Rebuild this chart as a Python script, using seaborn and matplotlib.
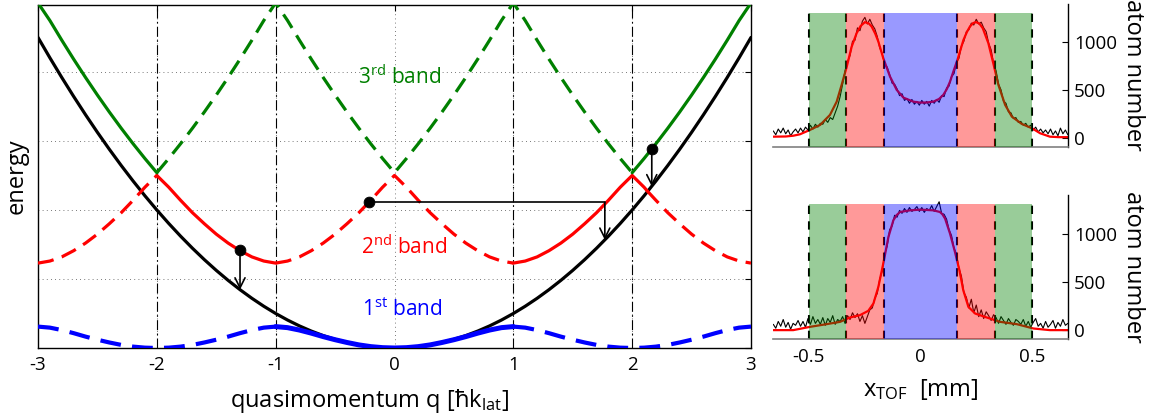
import numpy as np
import matplotlib
matplotlib.use("Agg")
import matplotlib.pyplot as plt
import seaborn as sns

# ---------------- band structure data ----------------
q_reduced = [0.0, 0.1, 0.2, 0.3, 0.4, 0.5, 0.6, 0.7, 0.8, 0.9, 1.0]
band1 = [0.0, 0.005, 0.02, 0.045, 0.08, 0.12, 0.165, 0.215, 0.26, 0.295, 0.31]
band2 = [2.50, 2.33, 2.14, 1.96, 1.80, 1.65, 1.52, 1.41, 1.32, 1.26, 1.23]
band3 = [2.54, 2.745, 2.96, 3.185, 3.42, 3.665, 3.92, 4.185, 4.46, 4.745, 5.0]

free_abs_q = [round(0.1 * i, 1) for i in range(31)]
free_energy = [0.0, 0.005, 0.02, 0.045, 0.08, 0.125, 0.18, 0.245, 0.32, 0.405,
               0.5, 0.605, 0.72, 0.845, 0.98, 1.125, 1.28, 1.445, 1.62, 1.805,
               2.0, 2.205, 2.42, 2.645, 2.88, 3.125, 3.38, 3.645, 3.92, 4.205, 4.5]

# red band meets the free parabola here (right side)
red_cross_q = 2.13
red_cross_E = 2.27

# transitions: dots, arrows
dot_q = [-1.30, -0.215, 2.165]
dot_E = [1.42, 2.11, 2.88]
arrow_q = [-1.30, 1.77, 2.165]
arrow_E_start = [1.42, 2.11, 2.88]
arrow_E_end = [0.845, 1.566, 2.34]
hline_q = [-0.215, 1.77]
hline_E = [2.11, 2.11]

zone_edges = [-2, -1, 1, 2]
q_ticks = [-3, -2, -1, 0, 1, 2, 3]

band_labels = ["3$^{\\rm rd}$ band", "2$^{\\rm nd}$ band", "1$^{\\rm st}$ band"]
band_label_q = [-0.31, -0.28, -0.27]
band_label_E = [3.92, 1.46, 0.55]

# ---------------- time-of-flight profiles ----------------
tof_x = np.linspace(-0.655, 0.66, 120)
top_counts = [70, 30, 90, 50, 100, 40, 80, 20, 60, 90,
              50, 100, 60, 110, 80, 130, 90, 140, 110, 150,
              140, 190, 160, 210, 190, 260, 330, 430, 560, 700,
              800, 860, 1010, 1020, 1150, 1120, 1220, 1260, 1190, 1240,
              1180, 1140, 1060, 940, 880, 760, 740, 660, 570, 560,
              510, 440, 460, 390, 410, 360, 400, 350, 380, 340,
              390, 350, 380, 330, 390, 360, 400, 370, 440, 430,
              520, 540, 640, 670, 790, 830, 960, 1010, 1110, 1130,
              1200, 1180, 1240, 1190, 1210, 1150, 1110, 990, 920, 780,
              700, 560, 500, 380, 360, 270, 260, 200, 210, 160,
              170, 130, 150, 110, 130, 80, 110, 60, 90, 50,
              80, 40, 90, 30, 70, 20, 100, 40, 80, 30]
bottom_counts = [60, 20, 90, 40, 110, 30, 80, 10, 70, 50,
                 100, 40, 90, 30, 120, 60, 140, 70, 110, 60,
                 130, 50, 120, 80, 150, 60, 110, 90, 140, 70,
                 150, 110, 180, 130, 170, 90, 150, 70, 140, 210,
                 230, 330, 380, 530, 610, 790, 870, 1040, 1080, 1190,
                 1170, 1240, 1210, 1260, 1220, 1270, 1230, 1250, 1280, 1230,
                 1270, 1220, 1260, 1240, 1290, 1230, 1280, 1330, 1210, 1200,
                 1150, 1040, 980, 850, 790, 640, 560, 390, 340, 230,
                 320, 180, 260, 140, 210, 120, 190, 150, 100, 160,
                 130, 70, 140, 100, 60, 120, 80, 50, 110, 90,
                 60, 110, 40, 90, 30, 80, 120, 40, 70, 20,
                 90, 30, 60, 100, 20, 80, 40, 110, 50, 70]

top_fit_x = [-0.655, -0.6, -0.566, -0.536, -0.491, -0.446, -0.402, -0.372, -0.35, -0.327,
             -0.305, -0.283, -0.265, -0.246, -0.228, -0.216, -0.2, -0.186, -0.164, -0.134,
             -0.104, -0.074, -0.03, 0.0, 0.03, 0.06, 0.085, 0.104, 0.12, 0.134,
             0.15, 0.167, 0.194, 0.21, 0.223, 0.237, 0.25, 0.265, 0.28, 0.305,
             0.327, 0.35, 0.38, 0.41, 0.454, 0.5, 0.536, 0.58, 0.62, 0.662]
top_fit = [10, 12, 20, 35, 81, 133, 238, 377, 552, 744,
           954, 1094, 1170, 1210, 1195, 1164, 1090, 1006, 832, 640,
           500, 419, 377, 367, 368, 377, 405, 448, 510, 587,
           700, 814, 1024, 1110, 1164, 1200, 1210, 1195, 1147, 990,
           780, 552, 343, 220, 144, 98, 46, 10, 5, 5]
bottom_fit_x = [-0.655, -0.566, -0.491, -0.417, -0.357, -0.3125, -0.268, -0.231, -0.208, -0.186,
                -0.164, -0.141, -0.119, -0.105, -0.089, -0.045, 0.0, 0.03, 0.06, 0.089,
                0.1, 0.112, 0.134, 0.156, 0.176, 0.193, 0.216, 0.246, 0.298, 0.357,
                0.432, 0.506, 0.58, 0.662]
bottom_fit = [0, 0, 34, 62, 86, 131, 155, 200, 276, 448,
              690, 966, 1138, 1190, 1224, 1241, 1248, 1245, 1241, 1224,
              1200, 1155, 1000, 810, 620, 414, 241, 172, 131, 86,
              62, 17, 0, 0]

region_edges = [-0.497, -0.33, -0.163, 0.167, 0.334, 0.5]
region_colors = ["#008000", "#ff0000", "#0000ff", "#ff0000", "#008000"]
region_top = 1310
tof_ticks = [-0.5, 0, 0.5]
count_ticks = [0, 500, 1000]

# ---------------- styling ----------------
sns.set_theme(style="white")
plt.rcParams["font.family"] = ["Open Sans", "DejaVu Sans"]
plt.rcParams["mathtext.fontset"] = "custom"
plt.rcParams["mathtext.rm"] = "Open Sans"
plt.rcParams["mathtext.it"] = "Open Sans:italic"
plt.rcParams["axes.unicode_minus"] = False
for key in ["text.color", "axes.labelcolor", "xtick.color", "ytick.color",
            "axes.edgecolor"]:
    plt.rcParams[key] = "black"

GREEN, RED, BLUE = "#008000", "#ff0000", "#0000ff"

fig = plt.figure(figsize=(11.6, 4.19), dpi=100)
W, H = 1160.0, 419.0


def axes_px(x0, y0, x1, y1):
    return fig.add_axes([x0 / W, 1 - y1 / H, (x1 - x0) / W, (y1 - y0) / H])


ax = axes_px(38, 5, 751, 348)


def band_segment(vals, q0, q1):
    qs = np.round(np.arange(q0, q1 + 1e-9, 0.1), 2)
    r = np.abs(((qs + 1) % 2) - 1)
    idx = np.rint(r * 10).astype(int)
    return qs, np.asarray(vals)[idx]


def draw(qs, es, color, lw, dashed, z):
    kw = dict(linestyle=(0, (5, 2.7)) if dashed else "-")
    sns.lineplot(x=list(qs), y=list(es), ax=ax, color=color, lw=lw,
                 sort=False, estimator=None, zorder=z, **kw)


# free-particle parabola
fq = np.round(np.arange(-3, 3.0001, 0.1), 2)
fe = np.asarray(free_energy)[np.rint(np.abs(fq) * 10).astype(int)]
draw(fq, fe, "black", 2.3, False, 3)

# first band
draw(*band_segment(band1, -3, -1), BLUE, 3.0, True, 4)
draw(*band_segment(band1, -1, 1), BLUE, 3.6, False, 4)
draw(*band_segment(band1, 1, 3), BLUE, 3.0, True, 4)

# second band
draw(*band_segment(band2, -3, -2), RED, 2.3, True, 4)
draw(*band_segment(band2, -2, -1), RED, 2.3, False, 4)
draw(*band_segment(band2, -1, 1), RED, 2.3, True, 4)
qs, es = band_segment(band2, 1, 2.1)
draw(list(qs) + [red_cross_q], list(es) + [red_cross_E], RED, 2.3, False, 4)
qs, es = band_segment(band2, 2.2, 3)
draw([red_cross_q] + list(qs), [red_cross_E] + list(es), RED, 2.3, True, 4)

# third band
draw(*band_segment(band3, -3, -2), GREEN, 2.3, False, 4)
draw(*band_segment(band3, -2, 2), GREEN, 2.3, True, 4)
draw(*band_segment(band3, 2, 3), GREEN, 2.3, False, 4)

# zone edges
for qe in zone_edges:
    ax.axvline(qe, color="black", lw=0.8, linestyle=(0, (9, 3, 1.5, 3)), zorder=1)

# transitions
ax.plot(hline_q, hline_E, color="black", lw=1.2, zorder=5)
for q, e0, e1 in zip(arrow_q, arrow_E_start, arrow_E_end):
    ax.annotate("", xy=(q, e1), xytext=(q, e0),
                arrowprops=dict(arrowstyle="->", color="black", lw=1.2,
                                mutation_scale=18, shrinkA=0, shrinkB=0),
                zorder=6)
sns.scatterplot(x=dot_q, y=dot_E, ax=ax, color="black", s=60, edgecolor="black",
                zorder=7)

for txt, q, e, c in zip(band_labels, band_label_q, band_label_E, [GREEN, RED, BLUE]):
    ax.text(q, e, txt, color=c, fontsize=15, ha="left", va="center")

ax.set_xlim(-3, 3)
ax.set_ylim(0, 4.97)
ax.set_xticks(q_ticks)
ax.set_xticklabels([str(t) for t in q_ticks])
ax.set_yticks([0, 1, 2, 3, 4])
ax.set_yticklabels([])
ax.grid(True, color="black", lw=0.6, linestyle=(0, (1, 4)), alpha=0.7)
ax.set_axisbelow(True)
ax.tick_params(direction="in", top=True, right=True, length=4, width=0.8,
               labelsize=13.5, pad=6, colors="black")
for s in ax.spines.values():
    s.set_color("black")
    s.set_linewidth(1.0)
ax.set_xlabel("quasimomentum q [ħk$_{\\rm lat}$]", fontsize=17)
ax.xaxis.set_label_coords((370 - 38) / 713, -0.115)
ax.set_ylabel("energy", fontsize=17)
ax.yaxis.set_label_coords(-0.013, 0.5)

# ---------------- TOF panels ----------------
ax_top = axes_px(773.3, 4, 1068.3, 146.7)
ax_bot = axes_px(773.3, 195, 1068.3, 339.3)

for a, counts, fx, fy in [(ax_top, top_counts, top_fit_x, top_fit),
                          (ax_bot, bottom_counts, bottom_fit_x, bottom_fit)]:
    sns.lineplot(x=tof_x, y=counts, ax=a, color="black", lw=0.8, estimator=None,
                 sort=False, zorder=1)
    sns.lineplot(x=fx, y=fy, ax=a, color=RED, lw=1.6, estimator=None,
                 sort=False, zorder=2)
    for xe in region_edges:
        a.plot([xe, xe], [-95, region_top], color="black", lw=1.5,
               linestyle=(0, (4, 3.5)), zorder=2.5)
    for (x0, x1), c in zip(zip(region_edges[:-1], region_edges[1:]), region_colors):
        a.fill_between([x0, x1], [-95, -95], [region_top, region_top], color=c,
                       alpha=0.4, lw=0, zorder=3)
    a.set_xlim(-0.655, 0.662)
    a.set_ylim(-95, 1400)
    a.set_xticks(tof_ticks)
    a.set_yticks(count_ticks)
    a.yaxis.tick_right()
    a.yaxis.set_label_position("right")
    a.tick_params(axis="y", direction="in", length=4, width=0.8, labelsize=13.5,
                  pad=4, right=True, left=False, colors="black")
    a.tick_params(axis="x", direction="in", length=4, width=0.8, labelsize=13.5,
                  pad=6, colors="black")
    a.spines["left"].set_visible(False)
    a.spines["top"].set_visible(False)
    a.spines["right"].set_color("black")
    a.spines["right"].set_linewidth(1.0)
    a.spines["bottom"].set_color("#808080")
    a.spines["bottom"].set_linewidth(1.2)
    a.set_ylabel("atom number", fontsize=17, rotation=270, labelpad=20)
    a.grid(False)

ax_top.set_xticklabels([])
ax_bot.set_xticklabels(["-0.5", "0", "0.5"])
ax_bot.set_xlabel("x$_{\\rm TOF}$  [mm]", fontsize=17, labelpad=8)

fig.savefig("out.png", dpi=100)
